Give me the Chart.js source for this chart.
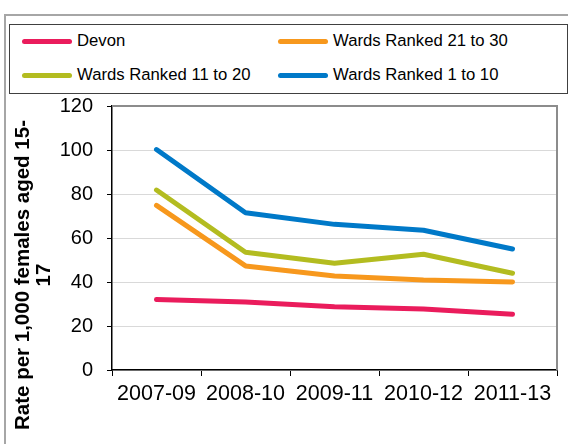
<!DOCTYPE html>
<html>
<head>
<meta charset="utf-8">
<script src="https://cdn.jsdelivr.net/npm/chart.js@4"></script>
<style>
  html,body{margin:0;padding:0;background:#fff;}
  body{width:568px;height:444px;position:relative;overflow:hidden;font-family:"Liberation Sans",Arial,sans-serif;}
  #frame{position:absolute;left:4px;top:14px;width:600px;height:500px;border-left:2px solid #a6a6a6;border-top:2px solid #a6a6a6;}
  #legendBox{position:absolute;left:9px;top:24px;width:557px;height:68px;border:1px solid #404040;background:#fff;}
  .lg{position:absolute;font-size:16.7px;color:#000;white-space:nowrap;line-height:18px;}
  .lg i{position:absolute;left:-55px;top:7px;width:50px;height:5px;border-radius:3px;}
  #ytitle{position:absolute;left:-138px;top:254px;width:340px;height:42px;text-align:center;font-weight:bold;font-size:20.5px;line-height:21px;transform:rotate(-90deg);}
  #wrap{position:absolute;left:0;top:0;}
</style>
</head>
<body>
<div id="frame"></div>
<div id="legendBox"></div>
<div id="legend"></div>
<div id="wrap"><canvas id="chart" width="568" height="444"></canvas></div>
<div id="ytitle">Rate per 1,000 females aged 15-<br>17</div>
<script>
const periods = ['2007-09','2008-10','2009-11','2010-12','2011-13'];
const devon   = [32.1, 30.9, 28.8, 27.7, 25.3];
const wards21 = [74.8, 47.3, 42.7, 40.9, 40.0];
const wards11 = [81.8, 53.5, 48.5, 52.6, 44.0];
const wards1  = [100.2, 71.5, 66.2, 63.5, 55.0];
const yTicks  = [0, 20, 40, 60, 80, 100, 120];

const series = [
  {label:'Devon', data:devon, color:'#ea1c5c', lx:77, ly:32},
  {label:'Wards Ranked 21 to 30', data:wards21, color:'#f7981d', lx:333, ly:32},
  {label:'Wards Ranked 11 to 20', data:wards11, color:'#b3bc20', lx:77, ly:66},
  {label:'Wards Ranked 1 to 10', data:wards1, color:'#0079c8', lx:333, ly:66}
];

// legend drawn as html, laid out like the original 2x2 grid
document.getElementById('legend').innerHTML = series.map(s=>
  `<div class="lg" style="left:${s.lx}px;top:${s.ly}px"><i style="background:${s.color}"></i>${s.label}</div>`).join('');

const plotFrame = {
  id:'plotFrame',
  afterDraw(chart){
    const {ctx, chartArea:a} = chart;
    ctx.save();
    ctx.strokeStyle = '#8c8c8c';
    ctx.lineWidth = 2;
    ctx.beginPath();
    ctx.moveTo(a.left, a.top);
    ctx.lineTo(a.right, a.top);
    ctx.lineTo(a.right, a.bottom);
    ctx.stroke();
    ctx.restore();
  }
};

new Chart(document.getElementById('chart'),{
  type:'line',
  data:{labels:periods, datasets:series.map(s=>({
    label:s.label, data:s.data, borderColor:s.color, backgroundColor:s.color,
    borderWidth:5, borderCapStyle:'round', borderJoinStyle:'round',
    pointRadius:0, tension:0, fill:false
  }))},
  options:{
    responsive:false, animation:false,
    layout:{padding:{top:106, right:11, left:0, bottom:0}},
    plugins:{legend:{display:false}, tooltip:{enabled:false}},
    scales:{
      x:{
        offset:true,
        grid:{offset:true, drawOnChartArea:false, drawTicks:true, tickLength:6, color:'#000'},
        border:{color:'#000', width:1.5},
        ticks:{color:'#000', padding:5, maxRotation:0, font:{family:'Liberation Sans', size:21.5}},
        afterFit(s){ s.height = 74; }
      },
      y:{
        min:0, max:120,
        afterBuildTicks(s){ s.ticks = yTicks.map(v=>({value:v})); },
        grid:{color:'#d9d9d9', lineWidth:1, tickColor:'#000', tickLength:5},
        border:{color:'#000', width:1.5},
        ticks:{color:'#000', padding:14, font:{family:'Liberation Sans', size:20}},
        afterFit(s){ s.width = 112; }
      }
    }
  },
  plugins:[plotFrame]
});
</script>
</body>
</html>
